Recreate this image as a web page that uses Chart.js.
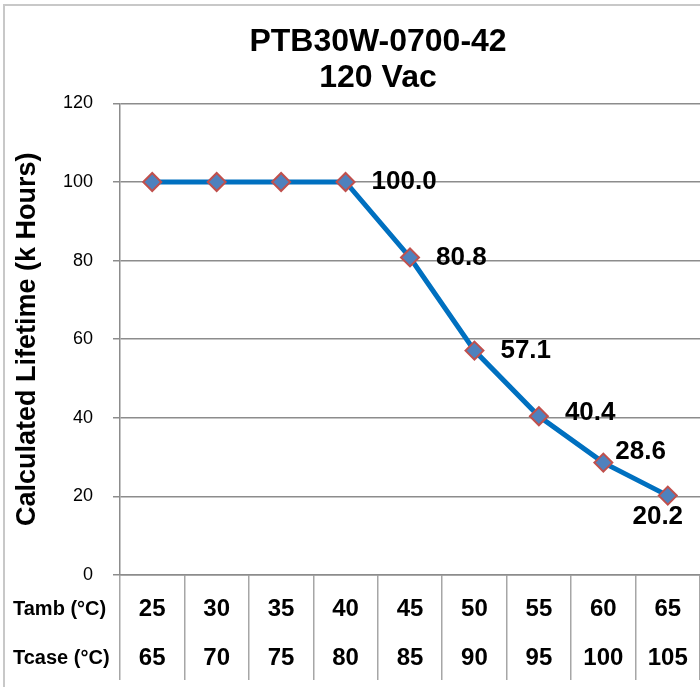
<!DOCTYPE html>
<html>
<head>
<meta charset="utf-8">
<script src="https://cdn.jsdelivr.net/npm/chart.js@4.4.1/dist/chart.umd.min.js"></script>
<style>
  html, body { margin: 0; padding: 0; background: #fff; overflow: hidden; }
  #wrap { position: relative; width: 700px; height: 687px; overflow: hidden; }
  #lifeChart { position: absolute; left: 0; top: 0; }
</style>
</head>
<body>
<div id="wrap"><canvas id="lifeChart" width="756" height="687"></canvas></div>
<script>
// chart data
const tamb = ['25', '30', '35', '40', '45', '50', '55', '60', '65'];
const tcase = ['65', '70', '75', '80', '85', '90', '95', '100', '105'];
const lifetime = [100, 100, 100, 100.0, 80.8, 57.1, 40.4, 28.6, 20.2];
const yTicks = [0, 20, 40, 60, 80, 100, 120];
const rowNames = ['Tamb (°C)', 'Tcase (°C)'];
const labelled = [3, 4, 5, 6, 7, 8];

Chart.defaults.font.family = "'Liberation Sans', Arial, sans-serif";
Chart.defaults.color = '#000';

// frame, table row names, value labels
const decor = {
  id: 'decor',
  beforeDraw(chart) {
    const c = chart.ctx;
    c.save();
    c.strokeStyle = '#c8c8c8';
    c.lineWidth = 2;
    c.strokeRect(4, 5, 748, 800);
    c.restore();
  },
  afterDraw(chart) {
    const c = chart.ctx;
    const xs = chart.scales.x;
    c.save();
    c.fillStyle = '#000';
    c.textBaseline = 'middle';
    c.textAlign = 'left';
    c.font = "bold 20px 'Liberation Sans', Arial, sans-serif";
    rowNames.forEach((name, i) => {
      c.fillText(name, 13, xs.top + 10 + 24.5 + i * 49);
    });

    // where each value label sits relative to its point
    const place = {
      3: [26, 0, 'left'], 4: [26, 0, 'left'], 5: [26, 0, 'left'],
      6: [26, -3, 'left'], 7: [12, -11, 'left'], 8: [-10, 21, 'center']
    };
    c.font = "bold 26px 'Liberation Sans', Arial, sans-serif";
    const pts = chart.getDatasetMeta(0).data;
    labelled.forEach(i => {
      const p = place[i];
      c.textAlign = p[2];
      c.fillText(lifetime[i].toFixed(1), pts[i].x + p[0], pts[i].y + p[1]);
    });
    c.restore();
  }
};

const ctx = document.getElementById('lifeChart').getContext('2d');
const chart = new Chart(ctx, {
  type: 'line',
  data: {
    labels: tamb.map((t, i) => [t, tcase[i]]),
    datasets: [{
      data: lifetime,
      borderColor: '#0070C0',
      borderWidth: 5,
      tension: 0,
      pointStyle: 'rectRot',
      pointRadius: 9,
      pointHoverRadius: 9,
      pointBackgroundColor: '#4F81BD',
      pointBorderColor: '#C0504D',
      pointBorderWidth: 2,
      fill: false
    }]
  },
  options: {
    responsive: false,
    animation: false,
    events: [],
    layout: { padding: { left: 4, right: 4, top: 0, bottom: 0 } },
    plugins: {
      legend: { display: false },
      tooltip: { enabled: false },
      title: {
        display: true,
        text: ['PTB30W-0700-42', '120 Vac'],
        font: { size: 32, weight: 'bold', lineHeight: 1.1 },
        color: '#000',
        padding: { top: 25, bottom: 8 }
      }
    },
    scales: {
      x: {
        offset: true,
        grid: {
          offset: true,
          drawOnChartArea: false,
          drawTicks: true,
          tickLength: 105,
          color: '#a6a6a6',
          lineWidth: 1.5
        },
        border: { display: true, color: '#8c8c8c', width: 1.5 },
        ticks: {
          autoSkip: false,
          maxRotation: 0,
          padding: -95,
          font: { size: 24, weight: 'bold', lineHeight: 49 / 24 },
          color: '#000'
        },
        afterFit(s) { s.height = 112; }
      },
      y: {
        min: 0,
        max: 120,
        afterBuildTicks(s) { s.ticks = yTicks.map(v => ({ value: v })); },
        grid: { color: '#8c8c8c', lineWidth: 1.5, tickLength: 7 },
        border: { display: true, color: '#8c8c8c', width: 1.5 },
        ticks: { padding: 20, font: { size: 18 }, color: '#000' },
        title: {
          display: true,
          text: 'Calculated Lifetime (k Hours)',
          font: { size: 27, weight: 'bold' },
          color: '#000',
          padding: { top: 7, bottom: 0 }
        },
        afterFit(s) { s.width = 116; }
      },
      yr: {
        position: 'right',
        display: true,
        grid: { display: false },
        border: { display: false },
        ticks: { display: false },
        afterFit(s) { s.width = 52; }
      }
    }
  },
  plugins: [decor]
});
</script>
</body>
</html>
